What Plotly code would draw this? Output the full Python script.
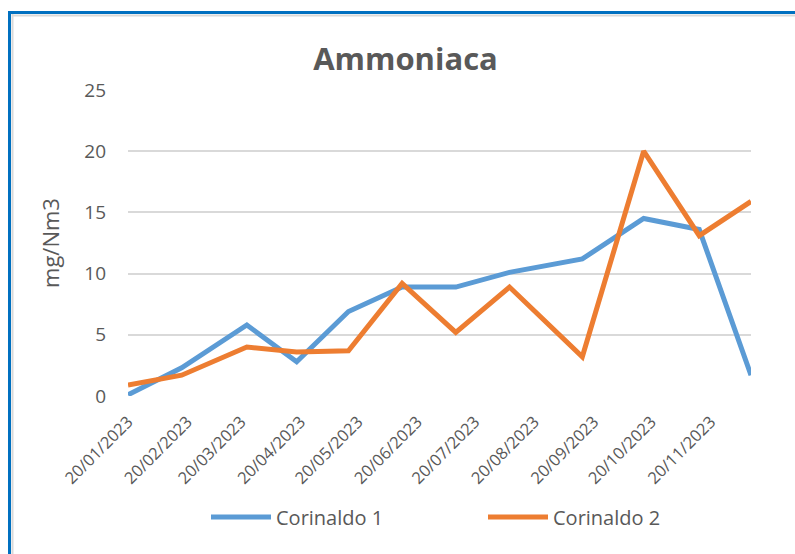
import plotly.graph_objects as go

dates = ["2023-01-20", "2023-02-17", "2023-03-23", "2023-04-18", "2023-05-15", "2023-06-12",
         "2023-07-10", "2023-08-07", "2023-09-14", "2023-10-16", "2023-11-14", "2023-12-11"]
corinaldo1 = [0.1, 2.3, 5.8, 2.8, 6.9, 8.9, 8.9, 10.1, 11.2, 14.5, 13.6, 1.7]
corinaldo2 = [0.9, 1.7, 4.0, 3.6, 3.7, 9.2, 5.2, 8.9, 3.2, 20.0, 13.1, 15.9]
tick_dates = ["2023-01-20", "2023-02-20", "2023-03-20", "2023-04-20", "2023-05-20", "2023-06-20",
              "2023-07-20", "2023-08-20", "2023-09-20", "2023-10-20", "2023-11-20"]
tick_labels = ["20/01/2023", "20/02/2023", "20/03/2023", "20/04/2023", "20/05/2023", "20/06/2023",
               "20/07/2023", "20/08/2023", "20/09/2023", "20/10/2023", "20/11/2023"]

W, H = 795, 554
ML, MR, MT, MB = 128, 44, 90, 158
PW, PH = W - ML - MR, H - MT - MB

def px_x(px):
    return (px - ML) / PW

def px_y(py):
    return (H - MB - py) / PH

FONT = "Open Sans"
GREY = "#595959"

fig = go.Figure()
fig.add_trace(go.Scatter(x=dates, y=corinaldo1, mode="lines", name="Corinaldo 1",
                         line=dict(color="#5B9BD5", width=5)))
fig.add_trace(go.Scatter(x=dates, y=corinaldo2, mode="lines", name="Corinaldo 2",
                         line=dict(color="#ED7D31", width=5)))

shapes = [
    dict(type="line", xref="paper", yref="paper", x0=px_x(12.5), x1=px_x(12.5), y0=px_y(14), y1=px_y(560),
         line=dict(color="#D9D9D9", width=2)),
    dict(type="line", xref="paper", yref="paper", x0=px_x(12), x1=px_x(800), y0=px_y(15.5), y1=px_y(15.5),
         line=dict(color="#D9D9D9", width=2)),
    dict(type="line", xref="paper", yref="paper", x0=px_x(9.5), x1=px_x(9.5), y0=px_y(11), y1=px_y(560),
         line=dict(color="#0070C0", width=3)),
    dict(type="line", xref="paper", yref="paper", x0=px_x(8), x1=px_x(800), y0=px_y(12.5), y1=px_y(12.5),
         line=dict(color="#0070C0", width=3)),
]

fig.update_layout(
    width=W, height=H,
    margin=dict(l=ML, r=MR, t=MT, b=MB, autoexpand=False),
    paper_bgcolor="white", plot_bgcolor="white",
    font=dict(family=FONT, color=GREY),
    title=dict(text="<b>Ammoniaca</b>", font=dict(family=FONT, size=31, color=GREY),
               xref="container", x=405.5 / W, xanchor="center",
               yref="container", y=1 - 59 / H, yanchor="middle"),
    xaxis=dict(type="date", range=[dates[0], dates[-1]], tickmode="array",
               tickvals=tick_dates, ticktext=tick_labels, tickangle=-45,
               tickfont=dict(family=FONT, size=16.5, color=GREY), showgrid=False,
               showline=False, zeroline=False, ticks="", ticklabelstandoff=12),
    yaxis=dict(range=[0, 25], tickvals=[0, 5, 10, 15, 20, 25], showgrid=True,
               gridcolor="#D9D9D9", gridwidth=2, zeroline=False, showline=False, ticks="",
               tickfont=dict(family=FONT, size=19, color=GREY), ticklabelstandoff=21,
               title=dict(text="mg/Nm3", font=dict(family=FONT, size=22, color=GREY), standoff=18)),
    legend=dict(orientation="h", x=px_x(206), xanchor="left", y=px_y(517), yanchor="middle",
                font=dict(family=FONT, size=20, color=GREY), entrywidth=202, entrywidthmode="pixels",
                itemwidth=60, bgcolor="rgba(0,0,0,0)"),
    shapes=shapes,
    showlegend=True,
)

fig.write_html("out.html", config={"displayModeBar": False},
               post_script="document.body.style.margin='0';document.body.style.overflow='hidden';")
